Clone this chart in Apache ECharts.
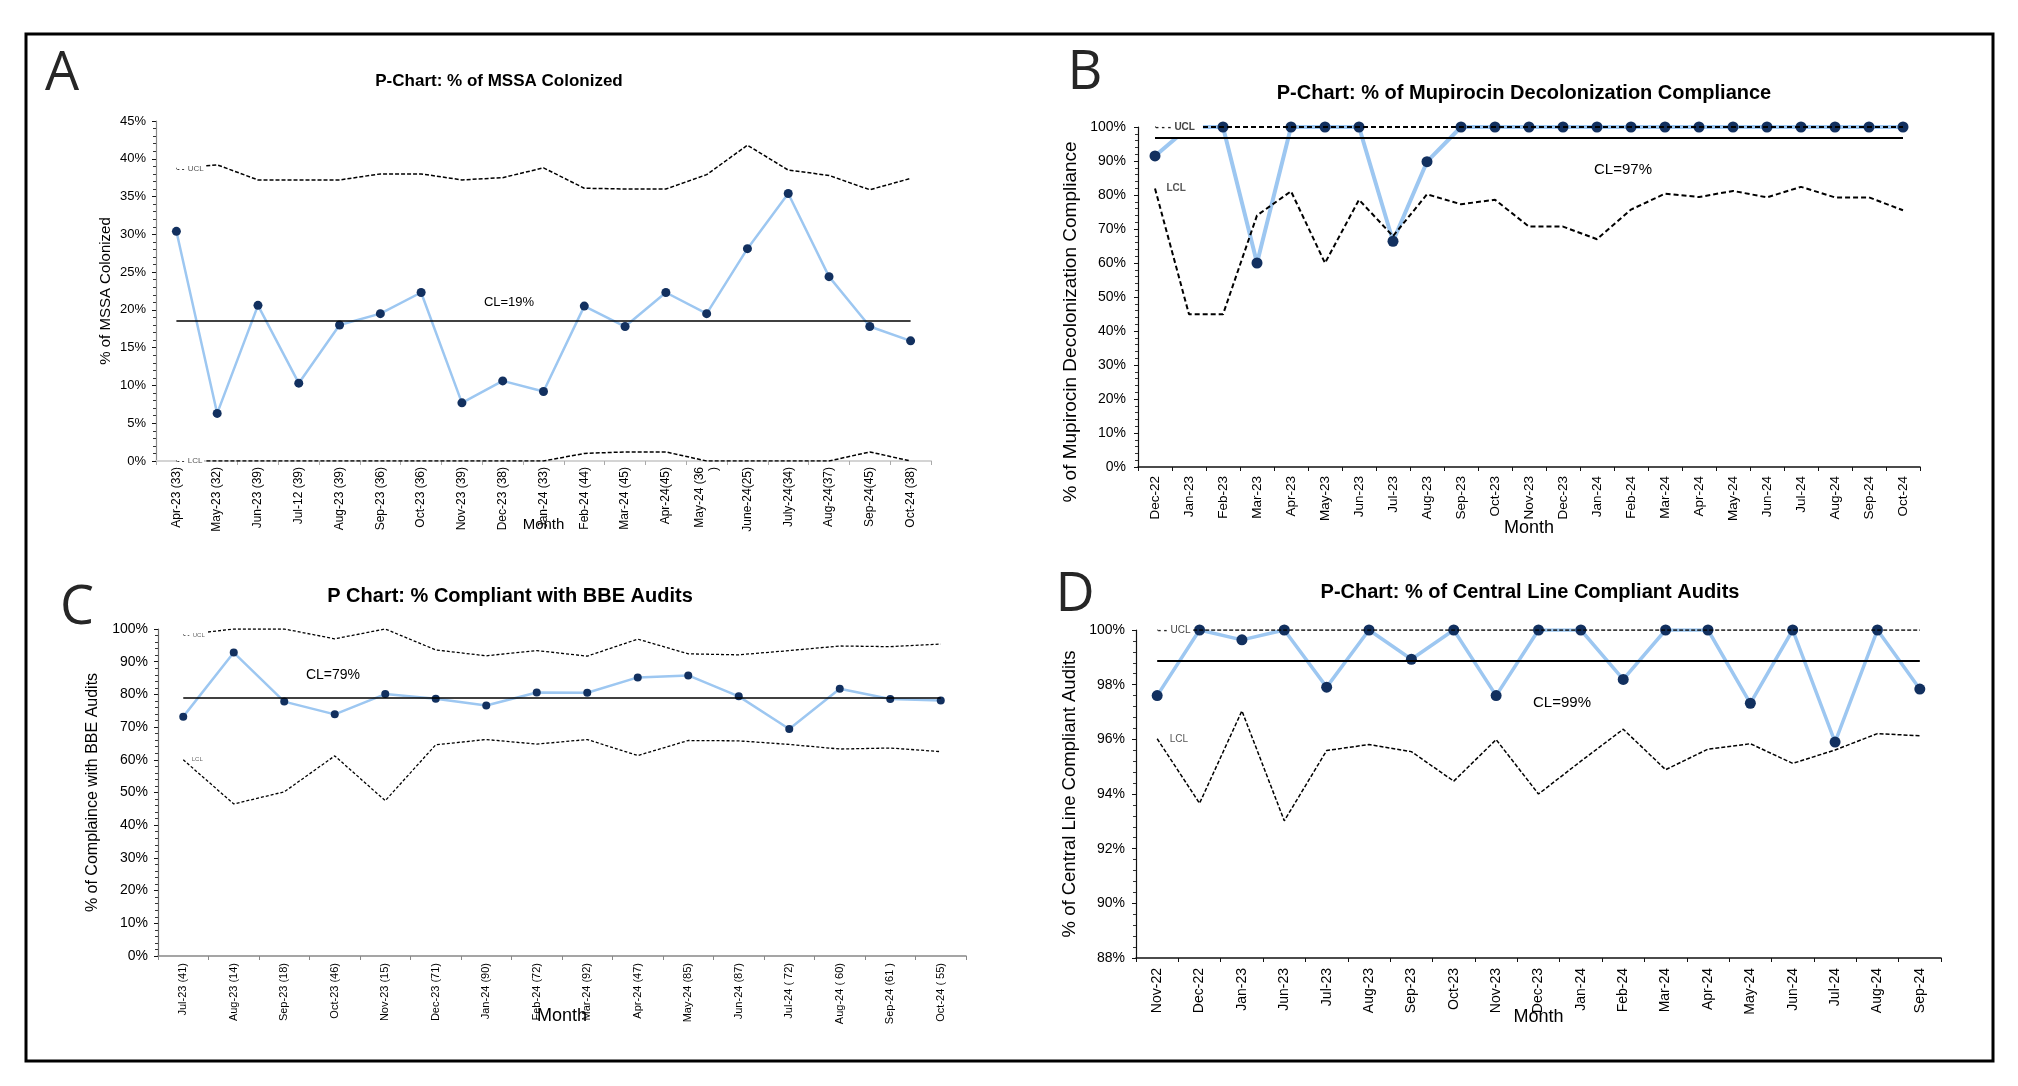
<!DOCTYPE html>
<html><head><meta charset="utf-8">
<script src="https://cdn.jsdelivr.net/npm/echarts@6/dist/echarts.min.js"></script>
<style>html,body{margin:0;padding:0;background:#fff;}#c{width:2018px;height:1086px;}</style>
</head><body><div id="c"></div>
<script>
// ---------- Panel A : MSSA colonized ----------
const aCategories = ["Apr-23 (33)","May-23 (32)","Jun-23 (39)","Jul-12 (39)","Aug-23 (39)","Sep-23 (36)","Oct-23 (36)","Nov-23 (39)","Dec-23 (38)","Jan-24 (33)","Feb-24 (44)","Mar-24 (45)","Apr-24(45)","May-24 (36\n)","June-24(25)","July-24(34)","Aug-24(37)","Sep-24(45)","Oct-24 (38)"];
const aValues = [30.4,6.3,20.6,10.3,18.0,19.5,22.3,7.7,10.6,9.2,20.5,17.8,22.3,19.5,28.1,35.4,24.4,17.8,15.9];
const aUCL = [38.7,39.2,37.2,37.2,37.2,38.0,38.0,37.2,37.5,38.8,36.1,36.0,36.0,37.9,41.8,38.5,37.8,35.9,37.4];
const aLCL = [0,0,0,0,0,0,0,0,0,0,1.0,1.2,1.2,0,0,0,0,1.2,0];
const aCL = 18.5;
const aTicks = {min:0, max:45, interval:5};

// ---------- Panel B : Mupirocin decolonization ----------
const bCategories = ["Dec-22","Jan-23","Feb-23","Mar-23","Apr-23","May-23","Jun-23","Jul-23","Aug-23","Sep-23","Oct-23","Nov-23","Dec-23","Jan-24","Feb-24","Mar-24","Apr-24","May-24","Jun-24","Jul-24","Aug-24","Sep-24","Oct-24"];
const bValues = [91.5,100,100,60.0,100,100,100,66.4,89.8,100,100,100,100,100,100,100,100,100,100,100,100,100,100];
const bUCL = [100,100,100,100,100,100,100,100,100,100,100,100,100,100,100,100,100,100,100,100,100,100,100];
const bLCL = [81.9,44.9,44.9,74.0,81.1,60.0,78.6,67.9,80.2,77.3,78.6,70.7,70.7,67.0,75.7,80.4,79.4,81.2,79.3,82.4,79.3,79.3,75.5];
const bCL = 96.8;
const bTicks = {min:0, max:100, interval:10};

// ---------- Panel C : BBE audits ----------
const cCategories = ["Jul-23 (41)","Aug-23 (14)","Sep-23 (18)","Oct-23 (46)","Nov-23 (15)","Dec-23 (71)","Jan-24 (90)","Feb-24 (72)","Mar-24 (92)","Apr-24 (47)","May-24 (85)","Jun-24 (87)","Jul-24 ( 72)","Aug-24 ( 60)","Sep-24 (61 )","Oct-24 ( 55)"];
const cValues = [73.2,92.8,77.8,73.9,80.1,78.7,76.6,80.6,80.5,85.2,85.8,79.4,69.4,81.7,78.6,78.1];
const cUCL = [98.2,100,100,97.0,100,93.6,91.8,93.4,91.7,96.9,92.4,92.1,93.4,94.8,94.6,95.4];
const cLCL = [60.0,46.5,50.2,61.2,47.5,64.6,66.2,64.8,66.2,61.3,65.9,65.8,64.7,63.3,63.6,62.5];
const cCL = 79.0;
const cTicks = {min:0, max:100, interval:10};

// ---------- Panel D : Central line audits ----------
const dCategories = ["Nov-22","Dec-22","Jan-23","Jun-23","Jul-23","Aug-23","Sep-23","Oct-23","Nov-23","Dec-23","Jan-24","Feb-24","Mar-24","Apr-24","May-24","Jun-24","Jul-24","Aug-24","Sep-24"];
const dValues = [97.60,100,99.64,100,97.91,100,98.93,100,97.60,100,100,98.19,100,100,97.32,100,95.90,100,97.84];
const dUCL = [100,100,100,100,100,100,100,100,100,100,100,100,100,100,100,100,100,100,100];
const dLCL = [96.02,93.66,97.04,93.02,95.59,95.81,95.55,94.47,95.99,94.00,95.20,96.37,94.89,95.64,95.84,95.12,95.61,96.21,96.13];
const dCL = 98.86;
const dTicks = {min:88, max:100, interval:2};

const titles = ["P-Chart: % of MSSA Colonized","P-Chart: % of Mupirocin Decolonization Compliance","P Chart: % Compliant with BBE Audits","P-Chart: % of Central Line Compliant Audits"];
const yNames = ["% of MSSA Colonized","% of Mupirocin Decolonization Compliance","% of Complaince with BBE Audits","% of Central Line Compliant Audits"];
const clTexts = ["CL=19%","CL=97%","CL=79%","CL=99%"];
const letters = ["A","B","C","D"];

const FONT = '"Liberation Sans", Arial, sans-serif';
const NAVY = '#12305f';
const BLUE = '#9dc7f1';

const panels = [
  {cats:aCategories, vals:aValues, ucl:aUCL, lcl:aLCL, cl:aCL, ticks:aTicks,
   grid:{left:156, top:121, width:775, height:340},
   yLab:13, xLab:12, yName:15, yGap:43, yPad:[0,0,0,0], xName:15, xGap:56, yMargin:10, xMargin:6,
   axisColor:'#8a8a8a', xAxisColor:'#d4d4d4', xAxisWidth:2,
   lineW:2.5, sym:9, limW:1.5, dash:[4,2], clW:1.5,
   uclLabel:{key:'- -', font:8, bold:false, color:'#555', dist:0}, lclLabel:{key:'- -', font:8, bold:false, color:'#555', dist:0}},
  {cats:bCategories, vals:bValues, ucl:bUCL, lcl:bLCL, cl:bCL, ticks:bTicks,
   grid:{left:1138, top:127, width:782, height:340},
   yLab:14, xLab:13.5, yName:19, yGap:58, yPad:[0,50,0,0], xName:18, xGap:52, yMargin:12, xMargin:9,
   axisColor:'#111', xAxisColor:'#111', xAxisWidth:1.5,
   lineW:4, sym:11, limW:2, dash:[5,3], clW:2,
   uclLabel:{key:'- - -', font:10, bold:true, color:'#444', dist:0, pad:[4,8,4,0]}, lclLabel:{key:'', font:10, bold:true, color:'#555', dist:11}},
  {cats:cCategories, vals:cValues, ucl:cUCL, lcl:cLCL, cl:cCL, ticks:cTicks,
   grid:{left:158, top:629, width:808, height:327},
   yLab:14, xLab:11, yName:16, yGap:57, yPad:[0,0,0,0], xName:18, xGap:51, yMargin:10, xMargin:7,
   axisColor:'#666', xAxisColor:'#888', xAxisWidth:1.5,
   lineW:2.5, sym:8, limW:1.3, dash:[3,2], clW:1.5,
   uclLabel:{key:'- -', font:6, bold:false, color:'#666', dist:0}, lclLabel:{key:'', font:6, bold:false, color:'#666', dist:8}},
  {cats:dCategories, vals:dValues, ucl:dUCL, lcl:dLCL, cl:dCL, ticks:dTicks,
   grid:{left:1136, top:630, width:805, height:328},
   yLab:14, xLab:14, yName:18.5, yGap:57, yPad:[0,0,0,0], xName:18, xGap:50, yMargin:11, xMargin:10,
   axisColor:'#111', xAxisColor:'#111', xAxisWidth:1.5,
   lineW:3.5, sym:11, limW:1.5, dash:[4,2], clW:2,
   uclLabel:{key:'- -', font:10, bold:false, color:'#444', dist:0}, lclLabel:{key:'', font:10, bold:false, color:'#555', dist:12}}
];

function limitData(arr, name, cfg){
  return arr.map((v,i)=>{
    if(i!==0) return v;
    const txt = cfg.key ? '{k|'+cfg.key+'} {t|'+name+'}' : '{t|'+name+'}';
    return {value:v, label:{show:true, position:'right', distance:cfg.dist, formatter:txt,
      backgroundColor:'#fff', padding: cfg.pad || [1,2,1,0],
      rich:{k:{fontSize:cfg.font, fontWeight:'bold', color:'#222', fontFamily:FONT},
            t:{fontSize:cfg.font, fontWeight:cfg.bold?'bold':'normal', color:cfg.color, fontFamily:FONT}}}};
  });
}

const grid=[], xAxis=[], yAxis=[], series=[];
panels.forEach((p,i)=>{
  grid.push(Object.assign({containLabel:false}, p.grid));
  xAxis.push({type:'category', gridIndex:i, data:p.cats, boundaryGap:true,
    name:'Month', nameLocation:'middle', nameGap:p.xGap, nameMoveOverlap:false,
    nameTextStyle:{fontFamily:FONT, fontSize:p.xName, color:'#000'},
    axisLine:{show:true, onZero:false, lineStyle:{color:p.xAxisColor, width:p.xAxisWidth}},
    axisTick:{show:true, length:4, lineStyle:{color:p.xAxisColor==='#d4d4d4'?'#aaa':p.xAxisColor}},
    axisLabel:{interval:0, rotate:90, margin:p.xMargin, fontFamily:FONT, fontSize:p.xLab, color:'#000', lineHeight:p.xLab+2},
    splitLine:{show:false}});
  yAxis.push({type:'value', gridIndex:i, min:p.ticks.min, max:p.ticks.max, interval:p.ticks.interval,
    name:yNames[i], nameLocation:'middle', nameGap:p.yGap, nameMoveOverlap:false,
    nameTextStyle:{fontFamily:FONT, fontSize:p.yName, color:'#000', padding:p.yPad},
    axisLine:{show:true, lineStyle:{color:p.axisColor, width:1.2}},
    axisTick:{show:true, length:4, lineStyle:{color:'#111'}},
    minorTick:{show:true, splitNumber:5, length:3, lineStyle:{color:'#333'}},
    axisLabel:{formatter:'{value}%', margin:p.yMargin, fontFamily:FONT, fontSize:p.yLab, color:'#000'},
    splitLine:{show:false}, minorSplitLine:{show:false}});
  const last = p.cats.length-1;
  // centre line
  series.push({type:'line', name:'CL', xAxisIndex:i, yAxisIndex:i, data:[], z:1, silent:true,
    markLine:{silent:true, symbol:['none','none'], label:{show:false},
      lineStyle:{color:'#000', width:p.clW, type:'solid'},
      data:[[{coord:[p.cats[0], p.cl]},{coord:[p.cats[last], p.cl]}]]}});
  // data
  series.push({type:'line', name:'%', xAxisIndex:i, yAxisIndex:i, data:p.vals, z:2, silent:true,
    symbol:'circle', symbolSize:p.sym, showSymbol:true, showAllSymbol:true,
    lineStyle:{color:BLUE, width:p.lineW}, itemStyle:{color:NAVY, borderWidth:0}});
  // UCL / LCL
  [['UCL',p.ucl,p.uclLabel],['LCL',p.lcl,p.lclLabel]].forEach(([nm,arr,lab])=>{
    series.push({type:'line', name:nm, xAxisIndex:i, yAxisIndex:i, data:limitData(arr,nm,lab), z:3, silent:true,
      symbol:'circle', symbolSize:1, showSymbol:true, showAllSymbol:true,
      itemStyle:{color:'rgba(0,0,0,0)', borderWidth:0},
      lineStyle:{color:'#000', width:p.limW, type:p.dash}});
  });
});

const titlePos = [[499,81,17],[1524,93,20],[510,596,20],[1530,592,20]];
const letterPos = [[62,75],[1085,74],[77,609],[1075,596]];
const clPos = [[509,302,13],[1623,170,15],[333,675,14],[1562,703,15]];
const graphic = [
  {type:'rect', shape:{x:26, y:34, width:1967, height:1027}, style:{fill:'none', stroke:'#000', lineWidth:3}, z:10}
];
titles.forEach((t,i)=>graphic.push({type:'text', x:titlePos[i][0], y:titlePos[i][1],
  style:{text:t, fontFamily:FONT, fontWeight:'bold', fontSize:titlePos[i][2], fill:'#000', align:'center', verticalAlign:'middle'}}));
letters.forEach((t,i)=>graphic.push({type:'text', x:letterPos[i][0], y:letterPos[i][1],
  style:{text:t, fontFamily:'"Open Sans", "Noto Sans", sans-serif', fontSize:54, fill:'#262626', align:'center', verticalAlign:'middle'}}));
clTexts.forEach((t,i)=>graphic.push({type:'text', x:clPos[i][0], y:clPos[i][1],
  style:{text:t, fontFamily:FONT, fontSize:clPos[i][2], fill:'#000', align:'center', verticalAlign:'middle'}}));

const chart = echarts.init(document.getElementById('c'));
chart.setOption({animation:false, backgroundColor:'#fff', grid, xAxis, yAxis, series, graphic});
</script></body></html>
